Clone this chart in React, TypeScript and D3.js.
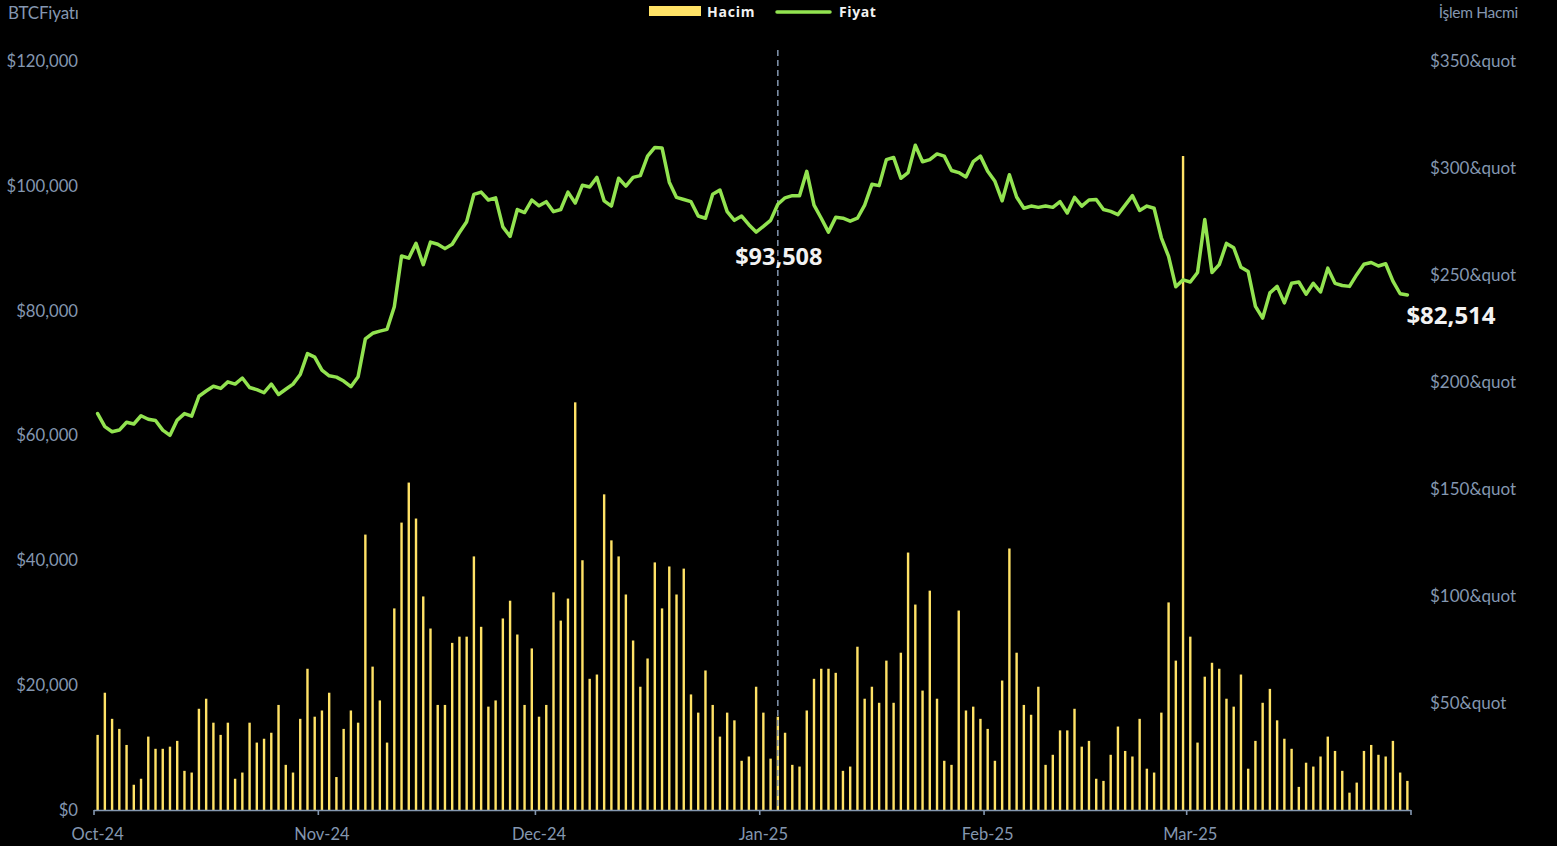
import React, { useEffect, useRef } from "react";
import * as d3 from "d3";

// daily BTC price (USD), Oct 1 2024 .. Mar 31 2025, one array per month
const priceOct = [63510, 61420, 60600, 60870, 62120, 61840, 63160, 62610, 62400, 60870, 60030, 62470, 63510, 63090, 66290, 67130, 67890, 67540, 68590, 68240, 69210, 67690, 67340, 66850, 68240, 66570, 67410, 68240, 69770, 73110, 72560];
const priceNov = [70470, 69560, 69350, 68730, 67820, 69420, 75480, 76380, 76730, 77010, 80620, 88760, 88410, 90780, 87370, 90990, 90640, 89940, 90640, 92520, 94260, 98640, 98990, 97730, 98080, 93420, 91890, 96200, 95720, 97730];
const priceDec = [96800, 97460, 95860, 96210, 98990, 97250, 100100, 99820, 101350, 97590, 96760, 101210, 99960, 101350, 101630, 104760, 106150, 106080, 100590, 98150, 97810, 97460, 95160, 94810, 98640, 99330, 95860, 94470, 95160, 93770, 92590];
const priceJan = [93508, 94470, 97040, 98080, 98430, 98430, 102320, 96900, 94810, 92590, 94950, 94810, 94330, 94810, 96900, 100240, 100030, 104200, 104550, 101210, 102120, 106500, 103860, 104200, 105110, 104760, 102460, 102120, 101420, 103860, 104760];
const priceFeb = [102330, 100730, 97600, 101770, 98200, 96410, 96760, 96550, 96760, 96550, 97460, 95650, 98150, 96760, 97730, 97800, 96200, 95900, 95380, 96900, 98430, 96060, 96760, 96410, 91680, 88690, 83820, 84940];
const priceMar = [84600, 86120, 94600, 86120, 87370, 90780, 90080, 86950, 86260, 80690, 78810, 82850, 83890, 81250, 84380, 84590, 82640, 84380, 82990, 86810, 84380, 84030, 83890, 85770, 87440, 87720, 87160, 87510, 84730, 82710, 82514];

// daily trading volume (right axis)
const volOct = [35.1, 54.8, 42.6, 37.9, 30.4, 11.8, 14.6, 34.3, 28.6, 28.6, 29.6, 32.3, 18.3, 17.5, 47.3, 52.0, 40.8, 35.1, 40.8, 14.6, 17.5, 40.8, 31.5, 33.3, 36.1, 49.1, 21.1, 17.5, 42.6, 66.0, 43.6];
const volNov = [46.5, 54.8, 15.4, 37.9, 46.5, 40.8, 128.7, 67.0, 51.2, 31.5, 94.2, 134.3, 153.0, 136.2, 99.8, 84.8, 49.1, 49.1, 78.1, 81.0, 81.0, 118.5, 85.6, 48.3, 51.2, 89.5, 97.8, 82.0, 49.1, 75.5];
const volDec = [43.6, 49.1, 101.7, 88.5, 98.8, 190.5, 116.7, 61.3, 63.3, 147.5, 126.0, 118.5, 100.7, 79.2, 57.6, 70.8, 115.7, 94.2, 113.8, 100.7, 112.8, 54.0, 45.5, 65.2, 49.1, 34.3, 45.5, 41.9, 23.0, 25.0, 57.6];
const volJan = [45.5, 24.0, 43.6, 36.1, 21.1, 20.3, 46.5, 61.3, 66.0, 66.0, 64.1, 18.3, 20.3, 76.3, 52.0, 57.6, 50.1, 69.8, 50.1, 73.5, 120.3, 96.0, 55.8, 102.5, 52.0, 23.0, 21.1, 93.2, 46.5, 48.3, 42.6];
const volFeb = [37.9, 23.0, 60.5, 122.2, 73.5, 49.1, 44.5, 57.6, 21.1, 25.8, 37.2, 37.2, 47.3, 29.6, 32.3, 14.6, 13.6, 25.8, 39.0, 27.6, 25.0, 42.6, 19.3, 17.5, 45.5, 97.0, 69.8, 305.6];
const volMar = [81.0, 31.5, 62.3, 68.8, 66.0, 52.0, 48.3, 63.3, 19.3, 32.3, 50.1, 56.6, 41.9, 33.3, 28.6, 10.8, 22.1, 20.3, 25.0, 34.3, 27.6, 18.3, 8.1, 12.8, 27.6, 30.4, 25.8, 25.0, 32.3, 17.5, 13.6];

const priceTicks = [0, 20000, 40000, 60000, 80000, 100000, 120000];
const volumeTicks = [0, 50, 100, 150, 200, 250, 300, 350];

const startDate = new Date(2024, 9, 1);
const endDate = new Date(2025, 3, 1);
const markerDate = new Date(2025, 0, 3);
const markerValue = 93508;

const W = 1557;
const H = 846;
const LEFT = 94;
const RIGHT = 1411;
const TOP = 61;
const BOTTOM = 810;

const GREEN = "#92E350";
const YELLOW = "#FFE266";
const AXIS = "#8497B0";
const LABEL_FONT = "Lato, 'Liberation Sans', sans-serif";
const BOLD_FONT = "'Open Sans', 'DejaVu Sans', sans-serif";

export default function App() {
  const ref = useRef<SVGSVGElement>(null);

  useEffect(() => {
    document.body.style.margin = "0";
    document.body.style.background = "#000";

    const svg = d3.select(ref.current);
    svg.selectAll("*").remove();

    const prices = [...priceOct, ...priceNov, ...priceDec, ...priceJan, ...priceFeb, ...priceMar];
    const volumes = [...volOct, ...volNov, ...volDec, ...volJan, ...volFeb, ...volMar];
    const days = d3.timeDay.range(startDate, endDate);
    const data = days.map((d, i) => ({ date: d, price: prices[i], volume: volumes[i] }));

    const x = d3.scaleTime().domain([startDate, endDate]).range([LEFT, RIGHT]);
    const mid = (d: Date) => x(d3.timeHour.offset(d, 12));
    const yPrice = d3.scaleLinear().domain([0, 120000]).range([BOTTOM, TOP]);
    const yVol = d3.scaleLinear().domain([0, 350]).range([BOTTOM, TOP]);

    svg.append("rect").attr("width", W).attr("height", H).attr("fill", "#000");

    // volume bars
    const barW = 2.4;
    svg
      .append("g")
      .selectAll("rect")
      .data(data)
      .enter()
      .append("rect")
      .attr("x", (d) => mid(d.date) - barW / 2)
      .attr("y", (d) => yVol(d.volume))
      .attr("width", barW)
      .attr("height", (d) => BOTTOM - yVol(d.volume))
      .attr("fill", YELLOW);

    // marker line
    const mx = mid(markerDate);
    svg
      .append("line")
      .attr("x1", mx)
      .attr("x2", mx)
      .attr("y1", 50)
      .attr("y2", BOTTOM)
      .attr("stroke", AXIS)
      .attr("stroke-width", 1.5)
      .attr("stroke-dasharray", "6,4");

    // price line
    const line = d3
      .line<{ date: Date; price: number }>()
      .x((d) => mid(d.date))
      .y((d) => yPrice(d.price));

    svg
      .append("path")
      .datum(data)
      .attr("d", line)
      .attr("fill", "none")
      .attr("stroke", GREEN)
      .attr("stroke-width", 3.5)
      .attr("stroke-linejoin", "round")
      .attr("stroke-linecap", "round");

    // bottom axis
    const axis = svg.append("g");
    axis
      .append("line")
      .attr("x1", LEFT)
      .attr("x2", RIGHT)
      .attr("y1", BOTTOM + 0.5)
      .attr("y2", BOTTOM + 0.5)
      .attr("stroke", AXIS)
      .attr("stroke-width", 1.6);

    const months = d3.timeMonth.range(startDate, endDate);
    axis
      .selectAll("line.tick")
      .data([...months, endDate])
      .enter()
      .append("line")
      .attr("class", "tick")
      .attr("x1", (d) => x(d))
      .attr("x2", (d) => x(d))
      .attr("y1", BOTTOM)
      .attr("y2", BOTTOM + 5)
      .attr("stroke", AXIS)
      .attr("stroke-width", 1.6);

    axis
      .selectAll("text")
      .data(months)
      .enter()
      .append("text")
      .attr("x", (d) => mid(d))
      .attr("y", 840)
      .attr("text-anchor", "middle")
      .attr("fill", AXIS)
      .style("font-family", LABEL_FONT)
      .style("font-size", "16.5px")
      .text(d3.timeFormat("%b-%y"));

    // left axis labels
    const fmtPrice = d3.format("$,");
    svg
      .append("g")
      .selectAll("text")
      .data(priceTicks)
      .enter()
      .append("text")
      .attr("x", 78)
      .attr("y", (d) => yPrice(d))
      .attr("dy", "0.35em")
      .attr("text-anchor", "end")
      .attr("fill", AXIS)
      .style("font-family", LABEL_FONT)
      .style("font-size", "16.7px")
      .text((d) => fmtPrice(d));

    // right axis labels
    svg
      .append("g")
      .selectAll("text")
      .data(volumeTicks.filter((d) => d > 0))
      .enter()
      .append("text")
      .attr("x", 1430)
      .attr("y", (d) => yVol(d))
      .attr("dy", "0.35em")
      .attr("fill", AXIS)
      .style("font-family", LABEL_FONT)
      .style("font-size", "17px")
      .text((d) => `$${d}&quot`);

    // axis titles
    svg
      .append("text")
      .attr("x", 8)
      .attr("y", 19)
      .attr("fill", AXIS)
      .style("font-family", LABEL_FONT)
      .style("font-size", "17px")
      .style("letter-spacing", "-0.2px")
      .text("BTCFiyatı");

    svg
      .append("text")
      .attr("x", 1518)
      .attr("y", 18)
      .attr("text-anchor", "end")
      .attr("fill", AXIS)
      .style("font-family", LABEL_FONT)
      .style("font-size", "15.5px")
      .style("letter-spacing", "-0.3px")
      .text("İşlem Hacmi");

    // legend
    const legend = svg.append("g");
    legend.append("rect").attr("x", 649).attr("y", 6).attr("width", 52).attr("height", 10).attr("fill", YELLOW);
    legend
      .append("text")
      .attr("x", 707)
      .attr("y", 17)
      .attr("fill", "#F2F2F2")
      .style("font-family", BOLD_FONT)
      .style("font-weight", "700")
      .style("font-size", "14px")
      .style("letter-spacing", "0.8px")
      .text("Hacim");
    legend
      .append("line")
      .attr("x1", 777)
      .attr("x2", 830)
      .attr("y1", 12)
      .attr("y2", 12)
      .attr("stroke", GREEN)
      .attr("stroke-width", 3.5)
      .attr("stroke-linecap", "round");
    legend
      .append("text")
      .attr("x", 839)
      .attr("y", 17)
      .attr("fill", "#F2F2F2")
      .style("font-family", BOLD_FONT)
      .style("font-weight", "700")
      .style("font-size", "14px")
      .style("letter-spacing", "0.6px")
      .text("Fiyat");

    // value annotations
    svg
      .append("text")
      .attr("x", mx + 1)
      .attr("y", yPrice(markerValue) + 39)
      .attr("text-anchor", "middle")
      .attr("fill", "#F2F2F2")
      .style("font-family", BOLD_FONT)
      .style("font-weight", "700")
      .style("font-size", "23.5px")
      .text(fmtPrice(markerValue));

    const last = data[data.length - 1];
    svg
      .append("text")
      .attr("x", mid(last.date) - 1)
      .attr("y", yPrice(last.price) + 29)
      .attr("fill", "#F2F2F2")
      .style("font-family", BOLD_FONT)
      .style("font-weight", "700")
      .style("font-size", "24px")
      .text(fmtPrice(last.price));
  }, []);

  return <svg ref={ref} width={W} height={H} style={{ display: "block", background: "#000" }} />;
}
